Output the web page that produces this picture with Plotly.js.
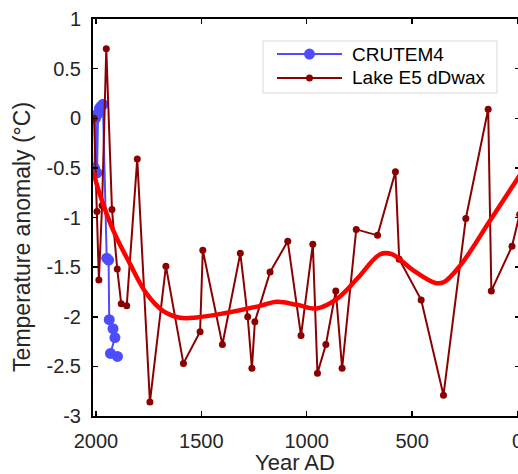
<!DOCTYPE html>
<html>
<head>
<meta charset="utf-8">
<script src="https://cdn.plot.ly/plotly-3.0.1.min.js"></script>
<style>
html,body{margin:0;padding:0;overflow:hidden;background:#fff;}
#chart{width:540px;height:474px;}
</style>
</head>
<body>
<div id="chart"></div>
<script>
// CRUTEM4 series
const crutemYears = [2007, 2002, 1995, 1990, 1983, 1976, 1967, 1949, 1940, 1937, 1919, 1910, 1931, 1898];
const crutemValues = [-0.5, 0.0, -0.55, 0.05, 0.1, 0.12, 0.14, -1.41, -1.43, -2.03, -2.12, -2.21, -2.37, -2.40];

// Lake E5 dDwax series
const lakeYears = [2009, 1995, 1986, 1971, 1951, 1924, 1899, 1880, 1854, 1804, 1744, 1668, 1585, 1506, 1493, 1400, 1315, 1280, 1260, 1246, 1174, 1090, 1027, 971, 949, 909, 862, 832, 765, 664, 579, 561, 457, 351, 245, 139, 124, 26, -10];
const lakeValues = [0.0, -0.94, -1.63, -0.88, 0.70, -0.92, -1.52, -1.87, -1.89, -0.41, -2.86, -1.49, -2.47, -2.15, -1.33, -2.28, -1.36, -2.0, -2.52, -2.05, -1.55, -1.24, -2.19, -1.27, -2.57, -2.28, -1.74, -2.52, -1.12, -1.18, -0.54, -1.42, -1.83, -2.79, -1.01, 0.09, -1.74, -1.29, -0.97];

// Smoothed curve
const smoothYears = [2012, 1987, 1918, 1839, 1759, 1682, 1601, 1522, 1397, 1221, 1142, 1045, 952, 857, 762, 651, 596, 493, 390, 348, 272, 130, 2, -12];
const smoothValues = [-0.54, -0.73, -1.13, -1.465, -1.77, -1.94, -2.01, -2.007, -1.967, -1.89, -1.85, -1.88, -1.916, -1.82, -1.62, -1.37, -1.37, -1.535, -1.66, -1.65, -1.485, -1.03, -0.616, -0.57];

// Tick labels
const xTickVals = [2000, 1500, 1000, 500, 0];
const xTickText = ['2000', '1500', '1000', '500', '0'];
const yTickVals = [1, 0.5, 0, -0.5, -1, -1.5, -2, -2.5, -3];
const yTickText = ['1', '0.5', '0', '-0.5', '-1', '-1.5', '-2', '-2.5', '-3'];

const FONT = '"Liberation Sans", Arial, Helvetica, sans-serif';
const BLUE = '#4d4dff', DARKRED = '#8b0000', RED = '#ff0000';

const traces = [
  {
    x: crutemYears, y: crutemValues, type: 'scatter', mode: 'lines+markers',
    name: 'CRUTEM4', showlegend: false,
    line: {color: BLUE, width: 2},
    marker: {color: BLUE, size: 11}
  },
  {
    x: lakeYears, y: lakeValues, type: 'scatter', mode: 'lines+markers',
    name: 'Lake E5 dDwax', showlegend: false,
    line: {color: DARKRED, width: 2},
    marker: {color: DARKRED, size: 7}
  },
  {
    x: smoothYears, y: smoothValues, type: 'scatter', mode: 'lines',
    showlegend: false,
    line: {color: RED, width: 4.5, shape: 'spline', smoothing: 1}
  }
];

// Legend drawn in paper coordinates (plot area: 427 x 397 px)
const legendItems = [
  {name: 'CRUTEM4', color: BLUE, r: 5.5, y: 0.9118},
  {name: 'Lake E5 dDwax', color: DARKRED, r: 3.5, y: 0.8514}
];
const PW = 427, PH = 397;
const shapes = [{
  type: 'rect', xref: 'paper', yref: 'paper',
  x0: 0.3981, x1: 0.9461, y0: 0.8136, y1: 0.9446,
  fillcolor: '#fff', line: {color: '#d9d9d9', width: 1}, layer: 'above'
}];
const annotations = [
  {
    text: 'Temperature anomaly (°C)',
    xref: 'paper', yref: 'paper', x: -0.165, y: 0.45,
    xanchor: 'center', yanchor: 'middle', textangle: -90, showarrow: false,
    font: {family: FONT, size: 23, color: '#262626'}
  },
  {
    text: 'Year AD',
    xref: 'paper', yref: 'paper', x: 0.472, y: -0.116,
    xanchor: 'center', yanchor: 'middle', showarrow: false, borderpad: 0,
    font: {family: FONT, size: 22, color: '#262626'}
  }
];
legendItems.forEach(it => {
  shapes.push({
    type: 'line', xref: 'paper', yref: 'paper',
    x0: 0.4309, x1: 0.5831, y0: it.y, y1: it.y,
    line: {color: it.color, width: 2}, layer: 'above'
  });
  shapes.push({
    type: 'circle', xref: 'paper', yref: 'paper',
    x0: 0.5070 - it.r / PW, x1: 0.5070 + it.r / PW,
    y0: it.y - it.r / PH, y1: it.y + it.r / PH,
    fillcolor: it.color, line: {color: it.color, width: 0}, layer: 'above'
  });
  annotations.push({
    text: it.name, xref: 'paper', yref: 'paper',
    x: 0.6019, y: it.y, xanchor: 'left', yanchor: 'middle', showarrow: false,
    font: {family: FONT, size: 19, color: '#000'}
  });
});

const layout = {
  width: 540, height: 474,
  margin: {l: 93, r: 20, t: 19, b: 58},
  paper_bgcolor: '#fff', plot_bgcolor: '#fff',
  font: {family: FONT, size: 20, color: '#262626'},
  showlegend: false,
  xaxis: {
    range: [2014, -12], autorange: false,
    tickvals: xTickVals, ticktext: xTickText,
    ticks: 'inside', ticklen: 5, tickwidth: 1.5, tickcolor: '#000',
    showline: true, linecolor: '#000', linewidth: 2, mirror: 'ticks',
    showgrid: false, zeroline: false,
    tickfont: {family: FONT, size: 20, color: '#262626'},
    ticklabelstandoff: 6
  },
  yaxis: {
    range: [-3, 1], autorange: false,
    tickvals: yTickVals, ticktext: yTickText,
    ticks: 'inside', ticklen: 5, tickwidth: 1.5, tickcolor: '#000',
    showline: true, linecolor: '#000', linewidth: 2, mirror: 'ticks',
    showgrid: false, zeroline: false,
    tickfont: {family: FONT, size: 20, color: '#262626'},
    ticklabelstandoff: 6
  },
  shapes: shapes,
  annotations: annotations
};

Plotly.newPlot('chart', traces, layout, {displayModeBar: false, staticPlot: true});
</script>
</body>
</html>
